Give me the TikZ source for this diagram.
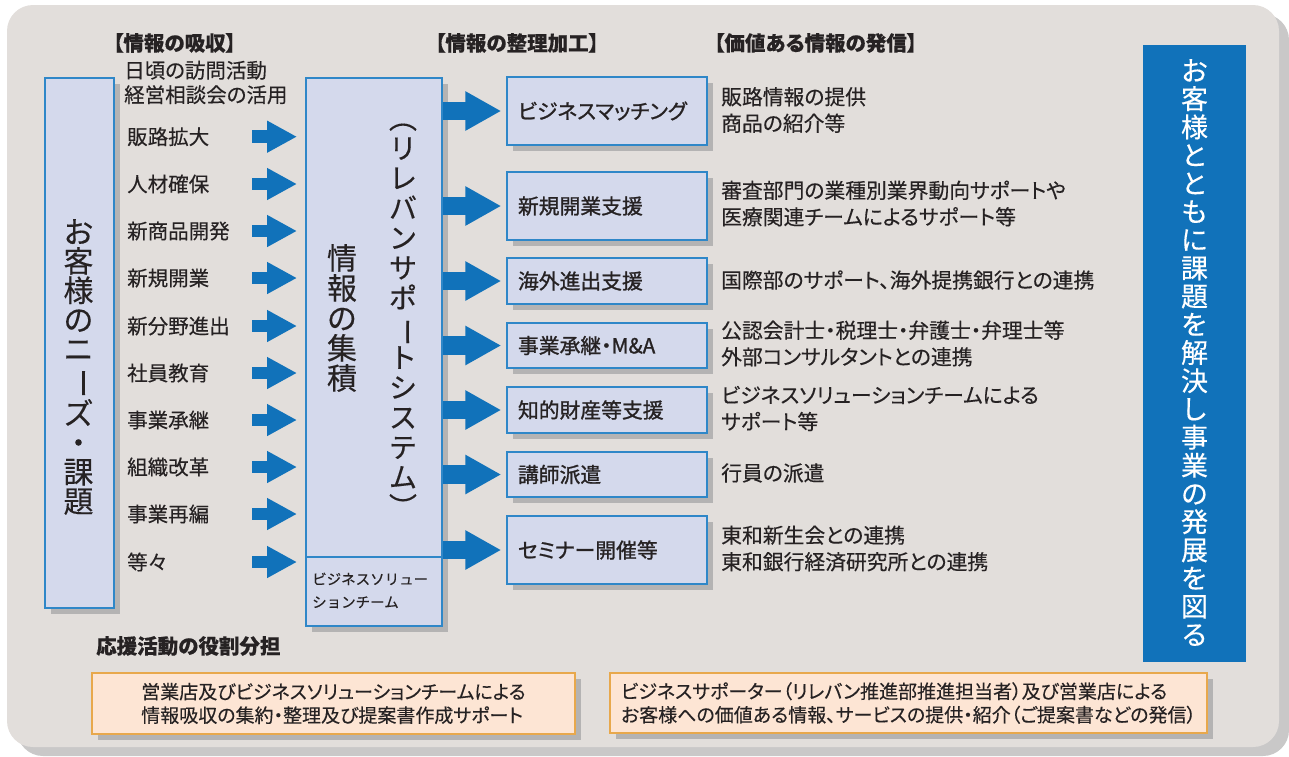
\documentclass[tikz,border=0pt]{standalone}
\usepackage{fontspec}
\usepackage{graphicx}
\setmainfont{Noto Sans CJK JP}[RawFeature=+palt, FakeBold=0.3]
\newfontfamily\vfont{Noto Sans CJK JP}[FakeBold=0.3]
\newfontfamily\medfont{Noto Sans CJK JP}[RawFeature=+palt, FakeBold=1.1]
\usetikzlibrary{arrows.meta,shadows}
\definecolor{bg}{HTML}{E2DEDB}
\definecolor{bgsh}{HTML}{C9C8C8}
\definecolor{boxfill}{HTML}{D4D9EC}
\definecolor{boxline}{HTML}{2F87C8}
\definecolor{arrowblue}{HTML}{1172BA}
\definecolor{shade}{HTML}{B4B3B3}
\definecolor{txt}{HTML}{262223}
\definecolor{orfill}{HTML}{FDE5D4}
\definecolor{orline}{HTML}{E8A84C}
\newcommand{\fs}[2]{\fontsize{#1}{#2}\selectfont}
\newcommand{\vlong}{\rotatebox[origin=c]{-90}{ー}}
\begin{document}
\begin{tikzpicture}[x=1pt,y=-1pt,
  every node/.style={inner sep=0pt, text=txt},
  needbox/.style={draw=boxline, line width=1.5pt, fill=boxfill,
    drop shadow={shadow xshift=6pt, shadow yshift=-6pt, fill=shade, opacity=1}},
  orbox/.style={draw=orline, line width=1.5pt, fill=orfill, align=left,
    drop shadow={shadow xshift=6pt, shadow yshift=-6pt, fill=shade, opacity=1}},
  svcbox/.style={needbox, minimum width=200, text width=178, inner xsep=11pt,
    align=left, font=\medfont\fs{20.8}{24}},
  head/.style={anchor=west, font=\bfseries\fs{20.5}{20.5}},
  item/.style={anchor=west, font=\fs{20.5}{24.5}},
  desc/.style={anchor=west, align=left, font=\fs{20.8}{26.5}},
  vtext/.style={align=center},
  larrow/.style={draw=arrowblue, line width=12.6pt, -{Triangle[length=30pt,width=30pt]}},
  rarrow/.style={draw=arrowblue, line width=18.3pt, -{Triangle[length=36pt,width=37pt]}}]
\useasboundingbox (0,0) rectangle (1289,756);
% background panel
\fill[bgsh, rounded corners=26pt] (17,14) rectangle (1289,756);
\fill[bg, rounded corners=26pt] (7,5) rectangle (1279,747);

% headers
\node[head] (h1) at (113,43) {【情報の吸収】};
\node[head] (h2) at (435,43) {【情報の整理加工】};
\node[head] (h3) at (714,43) {【価値ある情報の発信】};
\node[item, align=left] (visit) at (124,82.5) {日頃の訪問活動\\経営相談会の活用};

% customer needs box
\node[needbox, minimum width=69, minimum height=530, anchor=north west] (needs) at (44,77) {};
\node[vtext, font=\vfont\fs{30}{29.3}] (needst) at (78.5,367)
  {お\\客\\様\\の\\ニ\\\vlong\\ズ\\・\\課\\題};

% system box
\node[needbox, minimum width=136, minimum height=548, anchor=north west] (sys) at (305,77) {};
\coordinate (dv) at (305,557);
\draw[boxline, line width=1.5pt] (dv) -- (dv -| sys.east);
\node[vtext, font=\vfont\fs{30}{30}] (collect) at (342,318) {情\\報\\の\\集\\積};
\node[vtext, font=\vfont\fs{28}{29.9}] (relv) at (403,320.5)
  {︵\\リ\\レ\\バ\\ン\\サ\\ポ\\\vlong\\ト\\シ\\ス\\テ\\ム\\︶};
\node[anchor=west, align=left, font=\vfont\fs{14.5}{23}] (bsteam) at (312,590.5)
  {ビジネスソリュー\\ションチーム};

% items and left arrows
\coordinate (sysin) at ([xshift=-8pt]sys.west);
\foreach \t/\y [count=\i] in {販路拡大/136.7, 人材確保/184, 新商品開発/231, 新規開業/278,
  新分野進出/326, 社員教育/373, 事業承継/420, 組織改革/467, 事業再編/514, 等々/562} {
  \node[item] (it\i) at (127,\y) {\t};
  \coordinate (s\i) at (252,\y);
  \draw[larrow] (s\i) -- (sysin |- s\i);
}

% service boxes
\node[svcbox, minimum height=68] (b1) at (607,111) {ビジネスマッチング};
\node[svcbox, minimum height=68] (b2) at (607,206) {新規開業支援};
\node[svcbox, minimum height=46] (b3) at (607,281) {海外進出支援};
\node[svcbox, minimum height=45] (b4) at (607,345.5) {事業承継・M\&A};
\node[svcbox, minimum height=46] (b5) at (607,410) {知的財産等支援};
\node[svcbox, minimum height=45] (b6) at (607,474.5) {講師派遣};
\node[svcbox, minimum height=68] (b7) at (607,550) {セミナー開催等};

\foreach \i in {1,...,7} {
  \draw[rarrow] ([xshift=0.5pt]sys.east |- b\i) -- ([xshift=-5pt]b\i.west);
}

% descriptions
\node[desc] (d1) at (721,110) {販路情報の提供\\商品の紹介等};
\node[desc] (d2) at (721,203.5) {審査部門の業種別業界動向サポートや\\医療関連チームによるサポート等};
\node[desc] (d3) at (721,280) {国際部のサポート、海外提携銀行との連携};
\node[desc] (d4) at (721,343.5) {公認会計士・税理士・弁護士・弁理士等\\外部コンサルタントとの連携};
\node[desc] (d5) at (721,408.5) {ビジネスソリューションチームによる\\サポート等};
\node[desc] (d6) at (721,473) {行員の派遣};
\node[desc] (d7) at (721,548.5) {東和新生会との連携\\東和銀行経済研究所との連携};

% goal box
\node[fill=arrowblue, minimum width=103, minimum height=617, anchor=north west] (goal) at (1143,45) {};
\node[vtext, text=white, font=\vfont\fs{27}{28.2}] (goalt) at (1194.5,352.5)
  {お\\客\\様\\と\\と\\も\\に\\課\\題\\を\\解\\決\\し\\事\\業\\の\\発\\展\\を\\図\\る};

% role sharing
\node[anchor=west, font=\bfseries\fs{20.5}{20.5}] (role) at (96,646) {応援活動の役割分担};
\node[orbox, minimum width=483, minimum height=61, font=\fs{19}{23.5}] (ob1) at (333.5,703.5)
  {営業店及びビジネスソリューションチームによる\\情報吸収の集約・整理及び提案書作成サポート};
\node[orbox, minimum width=597, minimum height=60, font=\fs{19}{23.5}] (ob2) at (908.5,703)
  {ビジネスサポーター（リレバン推進部推進担当者）及び営業店による\\お客様への価値ある情報、サービスの提供・紹介（ご提案書などの発信）};
\end{tikzpicture}
\end{document}
